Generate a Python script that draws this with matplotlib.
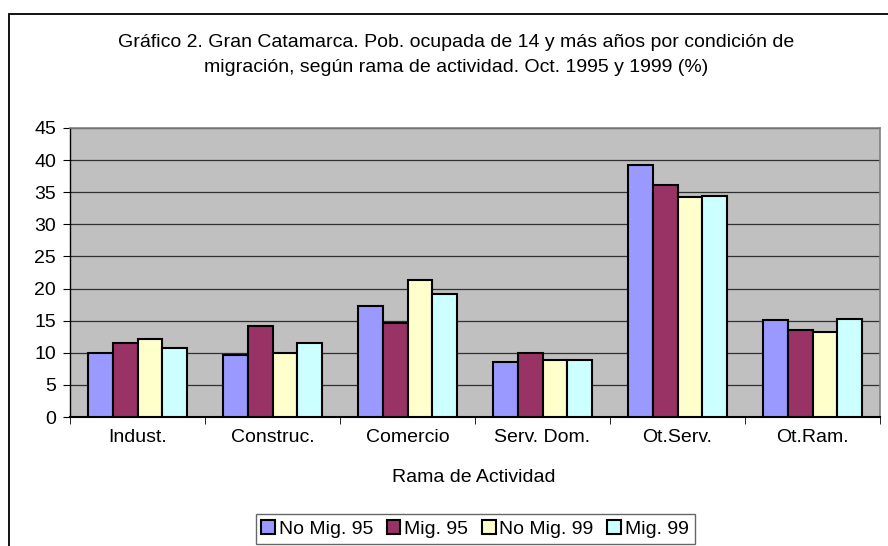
import matplotlib
matplotlib.use("Agg")
import matplotlib.pyplot as plt
import matplotlib.patches as mpatches
import numpy as np

plt.rcParams['font.family'] = ['Liberation Sans', 'DejaVu Sans']

# data
categories = ["Indust.", "Construc.", "Comercio", "Serv. Dom.", "Ot.Serv.", "Ot.Ram."]
series_names = ["No Mig. 95", "Mig. 95", "No Mig. 99", "Mig. 99"]
no_mig_95 = [9.9, 9.6, 17.3, 8.5, 39.2, 15.1]
mig_95 = [11.5, 14.2, 14.6, 9.9, 36.2, 13.5]
no_mig_99 = [12.2, 9.9, 21.3, 8.8, 34.2, 13.2]
mig_99 = [10.7, 11.6, 19.2, 8.8, 34.4, 15.2]
colors = ["#9999FF", "#993366", "#FFFFCC", "#CCFFFF"]

W, H = 888, 546
fs = 14
fig = plt.figure(figsize=(W / 100, H / 100), dpi=100)
ax = fig.add_axes([70 / W, 1 - 417 / H, 810 / W, 289 / H])

# outer chart border (cut off at right and bottom like the original)
border = mpatches.Rectangle((9 / W, -0.1), 1.2, 1 - 14 / H + 0.1, transform=fig.transFigure,
                            fill=False, edgecolor="black", lw=1.3, clip_on=False)
fig.patches.append(border)

x = np.arange(len(categories))
w = 1 / 5.5
all_series = [no_mig_95, mig_95, no_mig_99, mig_99]
for i, vals in enumerate(all_series):
	ax.bar(x + (i - 1.5) * w, vals, width=w, color=colors[i], edgecolor="black",
		   lw=1.5, label=series_names[i], zorder=3)

ax.set_facecolor("#C0C0C0")
ax.set_xlim(-0.5, len(categories) - 0.5)
ax.set_ylim(0, 45)
ax.set_yticks(np.arange(0, 46, 5))
ax.grid(axis="y", color="#303030", lw=0.9, zorder=1)
ax.set_axisbelow(True)

ax.set_xticks(x)
ax.set_xticklabels(categories)
ax.set_xticks(np.arange(-0.5, len(categories)), minor=True)
ax.tick_params(axis="x", which="major", length=0, pad=9, labelsize=fs)
ax.tick_params(axis="x", which="minor", length=5, color="black")
ax.tick_params(axis="y", length=5, labelsize=fs, pad=5)

for s in ["top", "right"]:
	ax.spines[s].set_color("#808080")
	ax.spines[s].set_linewidth(1.2)
ax.spines["left"].set_color("black")
ax.spines["bottom"].set_color("black")
ax.spines["left"].set_linewidth(1.0)
ax.spines["bottom"].set_linewidth(1.5)

ax.set_xlabel("Rama de Actividad", fontsize=fs, va="center")
ax.xaxis.set_label_coords((474 - 70) / 810, -(477 - 417) / 289)

fig.text(456 / W, 1 - 43 / H, "Gráfico 2. Gran Catamarca. Pob. ocupada de 14 y más años por condición de",
		 ha="center", va="center", fontsize=fs)
fig.text(456 / W, 1 - 67 / H, "migración, según rama de actividad. Oct. 1995 y 1999 (%)",
		 ha="center", va="center", fontsize=fs)

leg = fig.legend(loc="center", bbox_to_anchor=(475 / W, 1 - 529 / H), ncol=4,
				 fontsize=fs, frameon=True, fancybox=False, handlelength=0.7,
				 handleheight=0.7, handletextpad=0.2, columnspacing=0.7,
				 borderpad=0.3, borderaxespad=0)
leg.get_frame().set_edgecolor("#404040")
leg.get_frame().set_linewidth(1.0)

fig.savefig("out.png", dpi=100)
